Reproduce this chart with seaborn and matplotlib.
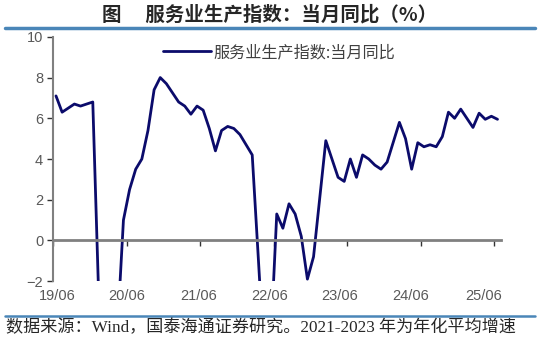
import numpy as np
import pandas as pd
import matplotlib
matplotlib.use("Agg")
import matplotlib.pyplot as plt
from matplotlib.lines import Line2D
import seaborn as sns

# --- du lieu: chi so san xuat dich vu, dong thang (%) ---
months = pd.period_range("2019-06", "2025-06", freq="M")
values = [
    7.1, 6.3, 6.5, 6.7, 6.6, 6.7, 6.8,                                   # 2019-06..12
    np.nan, -13.0, -9.1, -4.5, 1.0, 2.5, 3.5, 4.0, 5.4, 7.4, 8.0, 7.7,    # 2020
    np.nan, 6.8, 6.6, 6.2, 6.6, 6.4, 5.5, 4.4, 5.4, 5.6, 5.5, 5.2,        # 2021
    np.nan, 4.2, -0.9, -6.1, -5.1, 1.3, 0.6, 1.8, 1.3, 0.2, -1.9, -0.8,   # 2022
    np.nan, 4.9, 4.0, 3.1, 2.9, 4.0, 3.1, 4.2, 4.0, 3.7, 3.5, 3.85,       # 2023
    np.nan, 5.8, 5.0, 3.5, 4.8, 4.6, 4.7, 4.6, 5.1, 6.3, 6.0, 6.45,       # 2024
    np.nan, 5.55, 6.25, 5.95, 6.1, 5.95,                                  # 2025-01..06
]
series_name = "服务业生产指数:当月同比"
title = "图　 服务业生产指数：当月同比（%）"
source = "数据来源：Wind，国泰海通证券研究。2021-2023 年为年化平均增速"
tick_labels = [m.strftime("%y/%m") for m in months if m.month == 6]
y_ticks = [-2, 0, 2, 4, 6, 8, 10]

df = pd.DataFrame({"idx": np.arange(len(months)), "value": values}).dropna()

# --- ve ---
sns.set_theme(style="white")
plt.rcParams["font.family"] = ["Liberation Sans", "Noto Sans CJK SC", "DejaVu Sans"]

fig = plt.figure(figsize=(5.4, 3.51), dpi=100)
ax = fig.add_axes([0.098, 0.199, 0.829, 0.696])

sns.lineplot(data=df, x="idx", y="value", color="#0b0b6b", lw=2.0,
             ax=ax, label=series_name)

ax.set_xlim(-0.5, len(months) - 0.5)
ax.set_ylim(-2, 10)
ax.set_yticks(y_ticks)
ax.set_xlabel("")
ax.set_ylabel("")

# truc x nam o muc 0, nhan nam o duoi
major = np.arange(-0.5, len(months), 12)
ax.set_xticks(major)
ax.spines["bottom"].set_position(("data", 0))
ax.spines["bottom"].set_color("#808080")
ax.spines["bottom"].set_linewidth(2)
ax.tick_params(axis="x", labelbottom=False, direction="out", length=4,
               width=1, color="#333333", bottom=True)
for s in ["top", "right"]:
    ax.spines[s].set_visible(False)
ax.spines["left"].set_color("#808080")
ax.spines["left"].set_linewidth(1.5)
ax.tick_params(axis="y", direction="out", length=4, width=1,
               color="#333333", left=True, labelsize=10.5,
               labelcolor="#595959", pad=3)

label_pos = [0.2, 11.6, 23.2, 34.9, 46.3, 57.9, 69.7]
sec = ax.secondary_xaxis("bottom")
sec.set_xticks(label_pos, tick_labels)
sec.tick_params(length=0, labelsize=10.5, labelcolor="#595959", pad=6)
sec.spines["bottom"].set_visible(False)

leg = ax.legend(loc="upper center", bbox_to_anchor=(0.505, 1.03),
                frameon=False, handlelength=3.0, handletextpad=0.1,
                prop={"family": ["Noto Sans CJK SC"], "size": 11.6},
                labelcolor="#404040")

# tieu de, duong ke, nguon
fig.text(0.5, 1 - 15 / 351, title, ha="center", va="center",
         fontsize=14, fontweight="bold",
         family=["Noto Sans CJK SC", "DejaVu Sans"])
fig.add_artist(Line2D([0.01, 0.99], [0.92, 0.92], color="#4a86b8",
                      lw=2.5, transform=fig.transFigure))
fig.add_artist(Line2D([0.01, 0.99], [0.1, 0.1], color="#4a86b8",
                      lw=1.8, transform=fig.transFigure))
fig.text(0.012, 1 - 328 / 351, source, ha="left", va="center",
         fontsize=12.3, family=["Liberation Serif", "Noto Sans CJK SC"])

fig.savefig("out.png", dpi=100)
